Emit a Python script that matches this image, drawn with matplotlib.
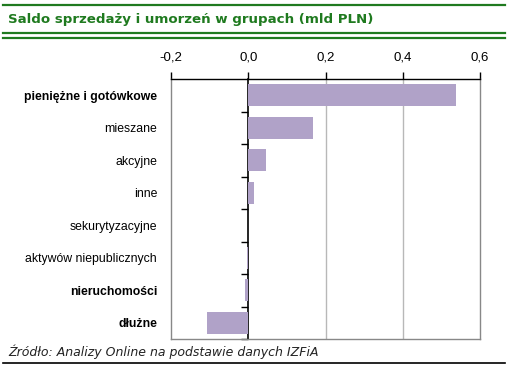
import numpy as np
import matplotlib.pyplot as plt
from matplotlib.lines import Line2D

# dane
kategorie = ['pieniężne i gotówkowe', 'mieszane', 'akcyjne', 'inne',
             'sekurytyzacyjne', 'aktywów niepublicznych', 'nieruchomości', 'dłużne']
saldo = [0.538, 0.168, 0.047, 0.016, 0.0, -0.003, -0.009, -0.107]
pogrubione = ['pieniężne i gotówkowe', 'nieruchomości', 'dłużne']
x_ticks = [-0.2, 0.0, 0.2, 0.4, 0.6]
x_labels = ['-0,2', '0,0', '0,2', '0,4', '0,6']

W, H = 508, 366
zielony = '#1f7a1f'
fiolet = '#b0a2c8'
szary = '#888888'

fig = plt.figure(figsize=(W / 100, H / 100), dpi=100)
ax = fig.add_axes([171 / W, 1 - 339 / H, (480 - 171) / W, (339 - 79) / H])

y = np.arange(len(kategorie))
ax.barh(y, saldo, height=0.68, color=fiolet, zorder=2)

ax.set_xlim(-0.2, 0.6)
ax.set_ylim(len(kategorie) - 0.5, -0.5)

# os x u gory
ax.xaxis.tick_top()
ax.set_xticks(x_ticks)
ax.set_xticklabels(x_labels, fontsize=9.5, family='Liberation Sans')
ax.tick_params(axis='x', length=5, width=1, pad=6, color='black')

# siatka
for v in [0.2, 0.4]:
    ax.axvline(v, color='#b8b8b8', lw=1, zorder=1)

# etykiety kategorii
ax.set_yticks(y)
ax.set_yticklabels(kategorie, fontsize=8.8, family='Liberation Sans')
ax.tick_params(axis='y', length=0, pad=10)
for lab in ax.get_yticklabels():
    if lab.get_text() in pogrubione:
        lab.set_fontweight('bold')

for s in ['left', 'right', 'bottom']:
    ax.spines[s].set_color(szary)
    ax.spines[s].set_linewidth(1)
ax.spines['top'].set_color('black')
ax.spines['top'].set_linewidth(1)

# linia zerowa z kreskami
sec = ax.secondary_yaxis(0.25)
sec.set_yticks(np.arange(len(kategorie)) + 0.5)
sec.tick_params(axis='y', length=5, width=1, direction='out', labelleft=False, color='black')
sec.spines['left'].set_color('black')
sec.spines['left'].set_linewidth(1.2)

# naglowek
fig.text(8 / W, 1 - 20 / H, 'Saldo sprzedaży i umorzeń w grupach (mld PLN)',
         fontsize=9.6, fontweight='bold', color=zielony, va='center', ha='left',
         family='DejaVu Sans')
for yy in [5, 33, 37.5]:
    fig.add_artist(Line2D([3 / W, 505 / W], [1 - yy / H, 1 - yy / H],
                          transform=fig.transFigure, color=zielony, lw=1.6))

# zrodlo
fig.text(8 / W, 1 - 352 / H, 'Źródło: Analizy Online na podstawie danych IZFiA',
         fontsize=9, style='italic', color='#222222', va='center', ha='left',
         family='DejaVu Sans')
fig.add_artist(Line2D([3 / W, 505 / W], [1 - 363 / H, 1 - 363 / H],
                      transform=fig.transFigure, color='black', lw=1.2))

fig.savefig('out.png', dpi=100)
